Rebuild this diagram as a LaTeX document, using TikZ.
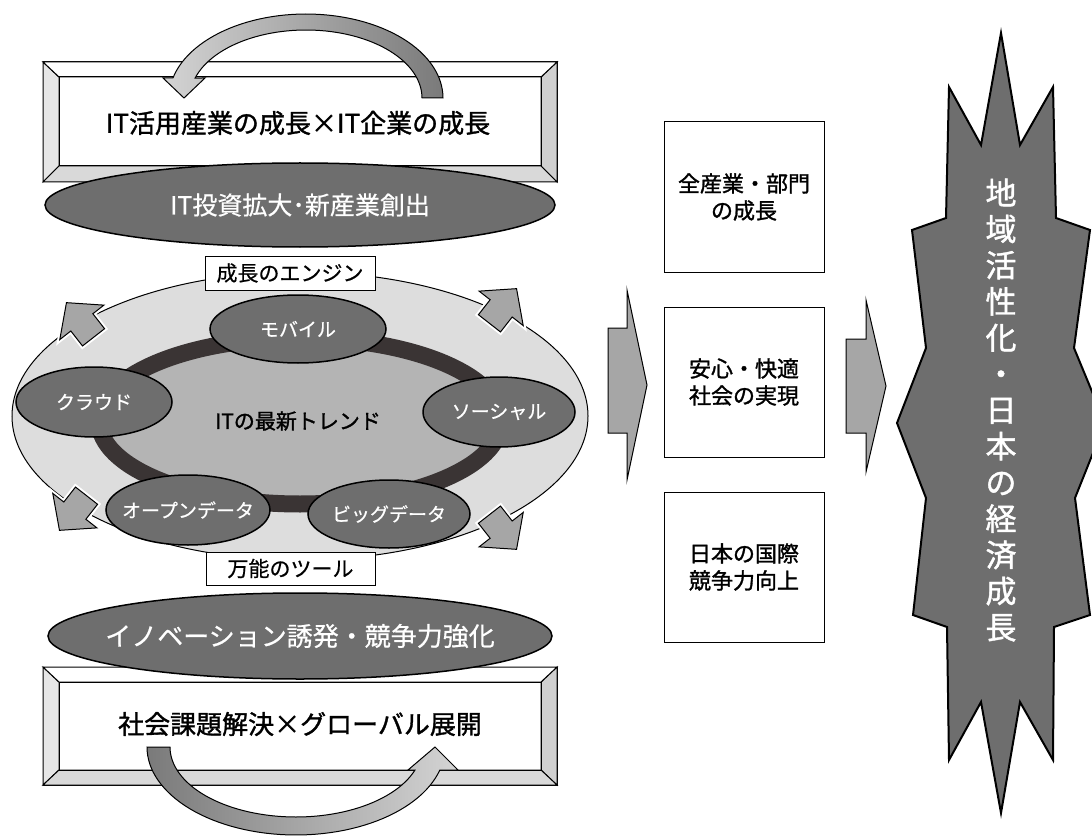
\documentclass[tikz,border=0pt]{standalone}
\usepackage{fontspec}
\setmainfont{Noto Sans CJK JP}
\newfontfamily\semib[FakeBold=1.3]{Noto Sans CJK JP}
\newfontfamily\lightb[FakeBold=0.6]{Noto Sans CJK JP}
\usetikzlibrary{shapes.geometric}
\definecolor{darkell}{HTML}{6E6E6E}
\definecolor{lightell}{HTML}{DDDDDD}
\definecolor{ringfill}{HTML}{B4B4B4}
\definecolor{ringline}{HTML}{3A3434}
\definecolor{blockarrow}{HTML}{A6A6A6}
\definecolor{bevelL}{HTML}{E6E6E6}
\definecolor{bevelB}{HTML}{D9D9D9}
\definecolor{bevelR}{HTML}{D0D0D0}
\definecolor{arrlight}{HTML}{D4D4D4}
\definecolor{arrdark}{HTML}{7A7A7A}
\newcommand\jfs[1]{\fontsize{#1}{#1}\selectfont}
\tikzset{
  outl/.style={draw=black, line width=1pt},
  dell/.style={ellipse, fill=darkell, draw=black, line width=1.5pt, inner sep=0pt, text=white},
  smell/.style={dell, font=\lightb\jfs{19}},
  lbox/.style={draw=black, fill=white, line width=1pt, inner sep=0pt, font=\lightb\jfs{21}},
  rbox/.style={draw=black, fill=white, line width=1pt, inner sep=0pt, minimum width=160pt, minimum height=150pt, align=center, font=\semib\fontsize{22}{27}\selectfont},
  barrow/.style={draw=black, line width=1pt, fill=blockarrow},
}
\begin{document}
\begin{tikzpicture}[x=1pt, y=-1pt]
\useasboundingbox (0,0) rectangle (1092,837);
\fill[white] (0,0) rectangle (1092,837);

% ---------- top bevel box ----------
\filldraw[outl, fill=white] (43,62) rectangle (557,182);
\filldraw[outl, fill=bevelL] (43,62) -- (59,77) -- (59,166) -- (43,182) -- cycle;
\filldraw[outl, fill=bevelR] (557,62) -- (541,77) -- (541,166) -- (557,182) -- cycle;
\filldraw[outl, fill=bevelB] (43,182) -- (59,166) -- (541,166) -- (557,182) -- cycle;
\filldraw[outl, fill=white] (43,62) -- (557,62) -- (541,77) -- (59,77) -- cycle;
\draw[outl] (59,77) rectangle (541,166);
\node (toptext) at (298,123) {\semib\jfs{26}IT活用産業の成長×IT企業の成長};

% top curved arrow
\path[draw=black, line width=1pt, left color=arrlight, right color=arrdark]
  (443,98) -- plot[domain=0:166.2, samples=60] ({306+137*cos(\x)}, {98-84*sin(\x)})
  -- (163,78) -- (184,98) -- (205,78)
  -- plot[domain=162.9:0, samples=60] ({306+116*cos(\x)}, {98-68*sin(\x)}) -- cycle;

% top ellipse
\node[dell, minimum width=510pt, minimum height=84pt] (topell) at (300,205)
  {\makebox[0pt]{\lightb\jfs{25}IT投資拡大･新産業創出}};

% ---------- middle ----------
\filldraw[draw=black, line width=1pt, fill=lightell] (300,416) ellipse [x radius=288, y radius=144];

\foreach \cx/\cy/\ang in {80/320/128, 503/306/52, 73/513/232, 503/532/308}{
  \begin{scope}[shift={(\cx,\cy)}, rotate=\ang]
    \draw[white, line width=5pt, line join=miter]
      (-22,-14) -- (-3,-14) -- (-3,-28) -- (22,0) -- (-3,28) -- (-3,14) -- (-22,14) -- cycle;
    \filldraw[barrow]
      (-22,-14) -- (-3,-14) -- (-3,-28) -- (22,0) -- (-3,28) -- (-3,14) -- (-22,14) -- cycle;
  \end{scope}
}

\draw[line width=17pt, draw=ringline, fill=ringfill] (300,421) ellipse [x radius=201, y radius=83];

\node[smell, minimum width=176pt, minimum height=68pt] (mobile) at (298,329) {\makebox[0pt]{モバイル}};
\node[smell, minimum width=156pt, minimum height=70pt] (cloud) at (94,402) {\makebox[0pt]{クラウド}};
\node[smell, minimum width=152pt, minimum height=70pt] (social) at (499,412) {\makebox[0pt]{ソーシャル}};
\node[smell, minimum width=164pt, minimum height=70pt] (opendata) at (188,510) {\makebox[0pt]{オープンデータ}};
\node[smell, minimum width=162pt, minimum height=68pt] (bigdata) at (389,514) {\makebox[0pt]{ビッグデータ}};

\node (trend) at (298,421) {\semib\jfs{21}ITの最新トレンド};

\node[lbox, minimum width=170pt, minimum height=34pt] (engine) at (290,273) {成長のエンジン};
\node[lbox, minimum width=169pt, minimum height=33pt] (tool) at (290.5,568.5) {万能のツール};

% ---------- bottom bevel box ----------
\filldraw[outl, fill=white] (43,667) rectangle (557,785);
\filldraw[outl, fill=bevelL] (43,667) -- (59,682) -- (59,770) -- (43,785) -- cycle;
\filldraw[outl, fill=bevelR] (557,667) -- (541,682) -- (541,770) -- (557,785) -- cycle;
\filldraw[outl, fill=bevelB] (43,785) -- (59,770) -- (541,770) -- (557,785) -- cycle;
\filldraw[outl, fill=white] (43,667) -- (557,667) -- (541,682) -- (59,682) -- cycle;
\draw[outl] (59,682) rectangle (541,770);

\node[dell, minimum width=504pt, minimum height=86pt] (botell) at (300,636)
  {\makebox[0pt]{\lightb\jfs{26}イノベーション誘発・競争力強化}};

\node (bottext) at (300,724) {\semib\jfs{26}社会課題解決×グローバル展開};

% bottom curved arrow
\path[draw=black, line width=1pt, left color=arrdark, right color=arrlight]
  (170,747) -- (147,747) -- plot[domain=180:15.2, samples=60] ({296+149*cos(\x)}, {747+88*sin(\x)})
  -- (458,770) -- (435,747) -- (408,770)
  -- plot[domain=19.2:180, samples=60] ({296+126*cos(\x)}, {747+70*sin(\x)}) -- cycle;

% ---------- right column ----------
\filldraw[barrow] (608,328) -- (627,328) -- (627,290) -- (647,385) -- (627,480) -- (627,433) -- (608,433) -- cycle;
\filldraw[barrow] (846,339) -- (866,339) -- (866,300) -- (886,386) -- (866,472) -- (866,433) -- (846,433) -- cycle;

\node[rbox] (r1) at (744,197) {全産業・部門\\の成長};
\node[rbox] (r2) at (744,382) {安心・快適\\社会の実現};
\node[rbox] (r3) at (744,567) {日本の国際\\競争力向上};

% starburst
\begin{scope}
\clip (0,0) rectangle (1092,837);
\filldraw[fill=darkell, draw=black, line width=2pt, line join=miter]
  (1001,33) -- (1020,145) -- (1053,87) -- (1056,218) -- (1090,230) -- (1074,348)
  -- (1105,423) -- (1075,498) -- (1090,615) -- (1054,627) -- (1053,760) -- (1020,702)
  -- (1001,813) -- (981,702) -- (949,760) -- (947,627) -- (913,615) -- (926,498)
  -- (897,423) -- (926,348) -- (912,230) -- (946,218) -- (949,87) -- (981,145) -- cycle;
\end{scope}
\node[text=white, align=center, font=\semib\fontsize{31}{36.2}\selectfont, inner sep=0pt] (burst) at (1001,410)
  {地\\域\\活\\性\\化\\・\\日\\本\\の\\経\\済\\成\\長};
\end{tikzpicture}
\end{document}
